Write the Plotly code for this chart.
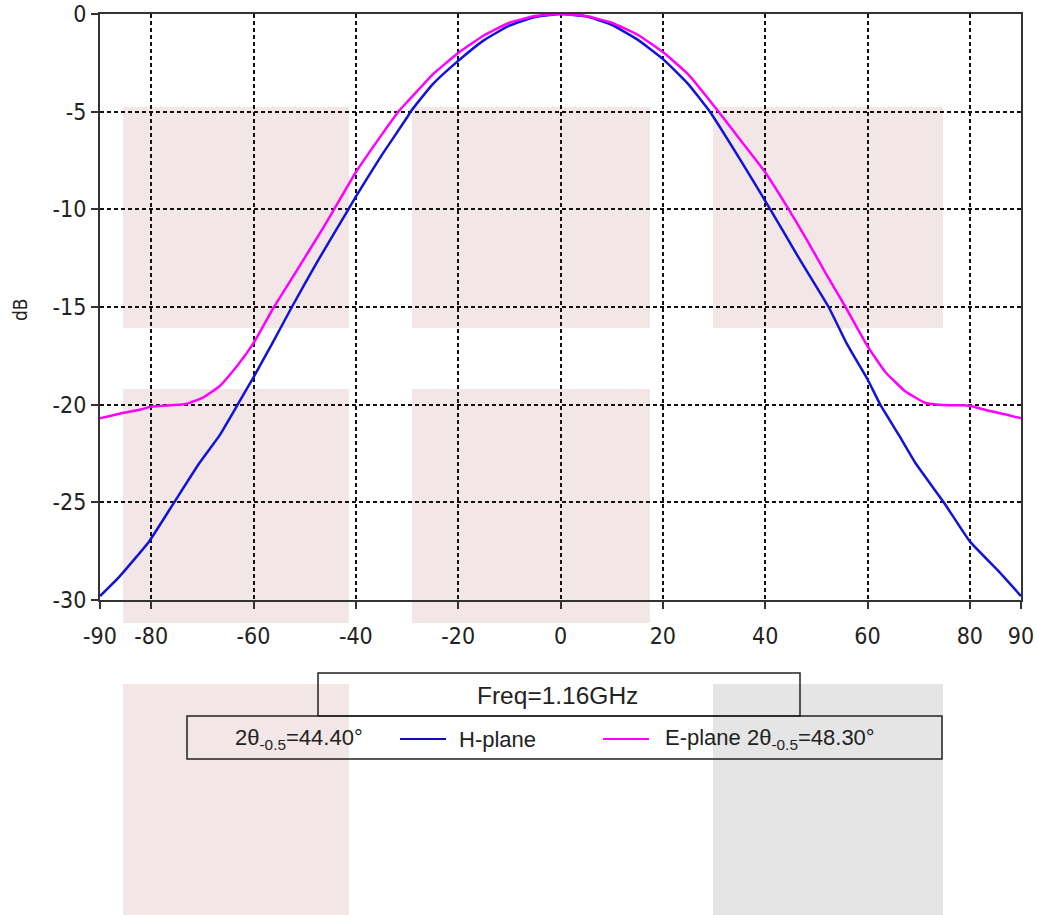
import plotly.graph_objects as go

# ---- data ----
h_theta = [-90, -86.2, -80.4, -75.5, -70.6, -66.7, -63.1, -60, -56.3, -52.5, -47.8, -41.45, -40, -35, -30, -29.3,
           -25, -20, -15, -10, -5, 0, 5, 10, 15, 20, 25, 29.2, 35, 41.0, 46.6, 52.4, 56,
           60, 62.5, 66, 69.4, 74.9, 80, 85.7, 90]
h_db = [-29.8, -28.8, -27.0, -25.0, -23.0, -21.6, -20.0, -18.6, -16.85, -15.0, -12.8, -10.0, -9.35, -7.25, -5.3, -5.0,
        -3.6, -2.4, -1.35, -0.6, -0.15, 0.0, -0.12, -0.55, -1.3, -2.3, -3.6, -5.0, -7.4, -10.0, -12.5, -15.0, -16.9,
        -18.7, -20.0, -21.5, -23.0, -25.0, -27.0, -28.55, -29.8]

e_theta = [-90, -86, -82, -80, -76, -73.2, -70, -66.7, -63.45, -60, -56, -51.7, -46.5, -44.25, -40, -35,
           -31.7, -29.6, -25, -20, -15, -10, -5, 0, 5, 10, 15, 20, 25, 30.9, 35, 40, 44.6, 48, 51.9, 55.7,
           60, 63.4, 67.3, 71.2, 74, 77, 80, 83.5, 87, 90]
e_db = [-20.7, -20.45, -20.25, -20.1, -20.03, -19.97, -19.65, -19.07, -18.1, -16.85, -15.0, -13.2, -11.0, -10.0, -8.1, -6.2,
        -5.0, -4.4, -3.1, -2.0, -1.1, -0.45, -0.1, 0.0, -0.1, -0.45, -1.05, -1.95, -3.1, -5.0, -6.4, -8.1, -10.0, -11.5, -13.3, -15.0,
        -17.0, -18.3, -19.3, -19.9, -20.0, -20.03, -20.05, -20.3, -20.5, -20.7]

x_ticks = [-90, -80, -60, -40, -20, 0, 20, 40, 60, 80, 90]
y_ticks = [0, -5, -10, -15, -20, -25, -30]

freq_label = "Freq=1.16GHz"
h_name = "H-plane"
h_width = "2θ<sub>-0.5</sub>=44.40°"
e_name = "E-plane 2θ<sub>-0.5</sub>=48.30°"

# ---- figure geometry (pixels) ----
W, H = 1037, 915
L, R, T, B = 100, 1021, 14, 600


def px(x):
    return (x - L) / (R - L)


def py(y):
    return (B - y) / (B - T)


FONT = "Liberation Sans Narrow, DejaVu Sans Condensed, Arial Narrow, sans-serif"
TXT = "Liberation Sans, Arial, sans-serif"
BLUE = "#1212d8"
MAG = "#ff00ff"

fig = go.Figure()
fig.add_trace(go.Scatter(x=h_theta, y=h_db, mode="lines", name=h_name,
                         line=dict(color=BLUE, width=2.5, shape="spline", smoothing=0.4), showlegend=False))
fig.add_trace(go.Scatter(x=e_theta, y=e_db, mode="lines", name=e_name,
                         line=dict(color=MAG, width=2.5, shape="spline", smoothing=0.4), showlegend=False))

shapes = []
# background tinted blocks
pink = "#f3e6e6"
grey = "#e5e5e5"
blocks = [
    (123, 349, 107, 328, pink), (123, 349, 389, 623, pink),
    (412, 650, 107, 328, pink), (412, 650, 389, 623, pink),
    (713, 943, 107, 328, pink),
    (123, 349, 684, 915, pink), (713, 943, 684, 915, grey),
]
for x0, x1, y0, y1, c in blocks:
    shapes.append(dict(type="rect", xref="paper", yref="paper", x0=px(x0), x1=px(x1),
                       y0=py(y1), y1=py(y0), fillcolor=c, line=dict(width=0), layer="below"))

# legend boxes
box_line = dict(color="#222222", width=1.5)
shapes.append(dict(type="rect", xref="paper", yref="paper", x0=px(318), x1=px(800),
                   y0=py(716), y1=py(673), line=box_line, fillcolor="rgba(0,0,0,0)", layer="above"))
shapes.append(dict(type="rect", xref="paper", yref="paper", x0=px(187), x1=px(942),
                   y0=py(759), y1=py(716), line=box_line, fillcolor="rgba(0,0,0,0)", layer="above"))
# legend line samples
shapes.append(dict(type="line", xref="paper", yref="paper", x0=px(400), x1=px(446),
                   y0=py(739), y1=py(739), line=dict(color="#1010b0", width=2)))
shapes.append(dict(type="line", xref="paper", yref="paper", x0=px(603), x1=px(649),
                   y0=py(739), y1=py(739), line=dict(color=MAG, width=2)))

annotations = [
    dict(text=freq_label, x=px(557), y=py(695), xref="paper", yref="paper", showarrow=False,
         font=dict(family=TXT, size=24.5, color="#222222"), xanchor="center", yanchor="middle"),
    dict(text=h_width, x=px(233), y=py(739), xref="paper", yref="paper", showarrow=False,
         font=dict(family=TXT, size=22, color="#222222"), xanchor="left", yanchor="middle"),
    dict(text=h_name, x=px(457), y=py(739), xref="paper", yref="paper", showarrow=False,
         font=dict(family=TXT, size=22, color="#222222"), xanchor="left", yanchor="middle"),
    dict(text=e_name, x=px(663), y=py(739), xref="paper", yref="paper", showarrow=False,
         font=dict(family=TXT, size=22, color="#222222"), xanchor="left", yanchor="middle"),
    dict(text="dB", x=px(20), y=py(310), xref="paper", yref="paper", showarrow=False, textangle=-90,
         font=dict(family=FONT, size=19, color="#222222"), xanchor="center", yanchor="middle"),
]

grid = dict(showgrid=True, gridcolor="#111111", gridwidth=1.5, griddash="4px,3px")
axis_common = dict(showline=True, linecolor="#333333", linewidth=2, mirror=True,
                   ticks="outside", ticklen=7, tickwidth=1.5, tickcolor="#333333",
                   tickfont=dict(family=FONT, size=23, color="#222222"), zeroline=False, **grid)

fig.update_layout(
    width=W, height=H,
    margin=dict(l=L, r=W - R, t=T, b=H - B, autoexpand=False),
    paper_bgcolor="white", plot_bgcolor="rgba(0,0,0,0)",
    xaxis=dict(range=[-90, 90], tickmode="array", tickvals=x_ticks,
               ticktext=[str(v) for v in x_ticks], ticklabelstandoff=7, **axis_common),
    yaxis=dict(range=[-30, 0], tickmode="array", tickvals=y_ticks,
               ticktext=[str(v) for v in y_ticks], **axis_common),
    shapes=shapes, annotations=annotations, showlegend=False,
)

fig.write_html("out.html", config={"displayModeBar": False},
               post_script="document.body.style.margin='0px';document.body.style.padding='0px';"
                           "document.body.style.overflow='hidden';")
